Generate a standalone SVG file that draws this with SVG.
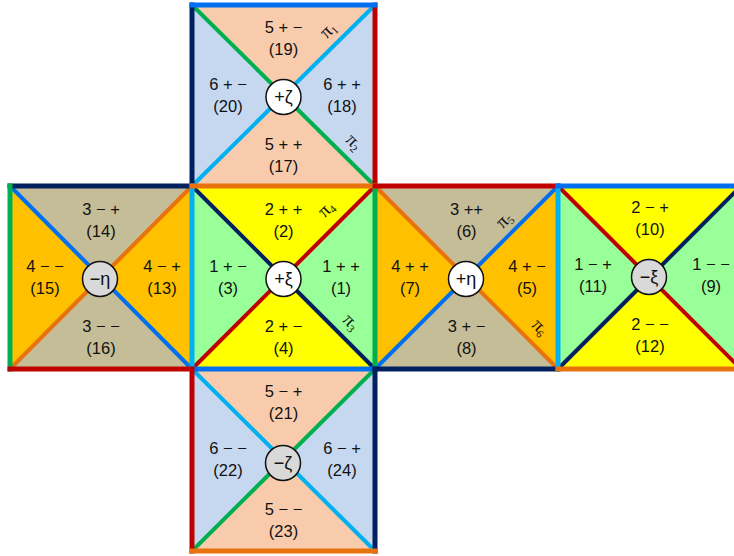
<svg xmlns="http://www.w3.org/2000/svg" width="734" height="556" viewBox="0 0 734 556">
<style>
.peach{fill:#F8CBAD}
.lblue{fill:#C5D8F0}
.tan{fill:#C4BD97}
.orng{fill:#FFC000}
.yel{fill:#FFFF00}
.grn{fill:#99FF99}
.e{stroke-width:5;fill:none;stroke-linecap:square}
.d{stroke-width:4;fill:none}
.cB{stroke:#0070F0}
.cN{stroke:#002060}
.cR{stroke:#C00000}
.cG{stroke:#00B050}
.cL{stroke:#00B0F0}
.cO{stroke:#E8720C}
text{font-family:"Liberation Sans",Arial,sans-serif;font-size:16.5px;fill:#111;text-anchor:middle}
.pi{font-family:"Liberation Serif","Times New Roman",serif;font-size:19px}
.pi tspan{font-size:11px}
.cp{fill:#fff;stroke:#111;stroke-width:1.5}
.cm{fill:#D9D9D9;stroke:#111;stroke-width:1.5}
.sym{font-size:18px}
</style>

<g id="face-top-zeta-plus">
<polygon class="peach" points="192,5 375,5 283.5,95.5"/>
<polygon class="lblue" points="375,5 375,186 283.5,95.5"/>
<polygon class="peach" points="375,186 192,186 283.5,95.5"/>
<polygon class="lblue" points="192,186 192,5 283.5,95.5"/>
<line class="d cG" x1="192" y1="5" x2="375" y2="186"/>
<line class="d cL" x1="192" y1="186" x2="375" y2="5"/>
<circle class="cp" cx="283.5" cy="97" r="17.5"/>
<text class="sym" x="283.5" y="103">+ζ</text>
<text x="283.5" y="33">5 + −</text><text x="283.5" y="55">(19)</text>
<text x="228" y="90">6 + −</text><text x="228" y="112">(20)</text>
<text x="342" y="90">6 + +</text><text x="342" y="112">(18)</text>
<text x="283.5" y="150">5 + +</text><text x="283.5" y="172">(17)</text>
<text class="pi" transform="translate(332,34) rotate(-45)">π<tspan dy="3">1</tspan></text>
<text class="pi" transform="translate(350,146) rotate(45)">π<tspan dy="3">2</tspan></text>
</g>

<g id="face-center-xi-plus">
<polygon class="yel" points="192,186 375,186 283.5,277.5"/>
<polygon class="grn" points="375,186 375,369 283.5,277.5"/>
<polygon class="yel" points="375,369 192,369 283.5,277.5"/>
<polygon class="grn" points="192,369 192,186 283.5,277.5"/>
<line class="d cN" x1="192" y1="186" x2="375" y2="369"/>
<line class="d cR" x1="192" y1="369" x2="375" y2="186"/>
<circle class="cp" cx="283.5" cy="279" r="17.5"/>
<text class="sym" x="283.5" y="285">+ξ</text>
<text x="283.5" y="215">2 + +</text><text x="283.5" y="237">(2)</text>
<text x="228" y="272">1 + −</text><text x="228" y="294">(3)</text>
<text x="341" y="272">1 + +</text><text x="341" y="294">(1)</text>
<text x="283.5" y="332">2 + −</text><text x="283.5" y="354">(4)</text>
<text class="pi" transform="translate(330,213) rotate(-45)">π<tspan dy="3">4</tspan></text>
<text class="pi" transform="translate(347,326) rotate(45)">π<tspan dy="3">3</tspan></text>
</g>

<g id="face-left-eta-minus">
<polygon class="tan" points="10,186 192,186 101,277.5"/>
<polygon class="orng" points="192,186 192,369 101,277.5"/>
<polygon class="tan" points="192,369 10,369 101,277.5"/>
<polygon class="orng" points="10,369 10,186 101,277.5"/>
<line class="d cB" x1="10" y1="186" x2="192" y2="369"/>
<line class="d cO" x1="10" y1="369" x2="192" y2="186"/>
<circle class="cm" cx="100" cy="279" r="17.5"/>
<text class="sym" x="100" y="285">−η</text>
<text x="101" y="215">3 − +</text><text x="101" y="237">(14)</text>
<text x="45" y="272">4 − −</text><text x="45" y="294">(15)</text>
<text x="162" y="272">4 − +</text><text x="162" y="294">(13)</text>
<text x="101" y="332">3 − −</text><text x="101" y="354">(16)</text>
</g>

<g id="face-right-eta-plus">
<polygon class="tan" points="375,186 558,186 466.5,277.5"/>
<polygon class="orng" points="558,186 558,369 466.5,277.5"/>
<polygon class="tan" points="558,369 375,369 466.5,277.5"/>
<polygon class="orng" points="375,369 375,186 466.5,277.5"/>
<line class="d cO" x1="375" y1="186" x2="558" y2="369"/>
<line class="d cB" x1="375" y1="369" x2="558" y2="186"/>
<circle class="cp" cx="466" cy="279" r="17.5"/>
<text class="sym" x="466" y="285">+η</text>
<text x="466.5" y="215">3 ++</text><text x="466.5" y="237">(6)</text>
<text x="410" y="272">4 + +</text><text x="410" y="294">(7)</text>
<text x="527" y="272">4 + −</text><text x="527" y="294">(5)</text>
<text x="466.5" y="332">3 + −</text><text x="466.5" y="354">(8)</text>
<text class="pi" transform="translate(508,224) rotate(-45)">π<tspan dy="3">5</tspan></text>
<text class="pi" transform="translate(536,331) rotate(45)">π<tspan dy="3">6</tspan></text>
</g>

<g id="face-far-right-xi-minus">
<polygon class="yel" points="558,186 741,186 649.5,277.5"/>
<polygon class="grn" points="741,186 741,369 649.5,277.5"/>
<polygon class="yel" points="741,369 558,369 649.5,277.5"/>
<polygon class="grn" points="558,369 558,186 649.5,277.5"/>
<line class="d cR" x1="558" y1="186" x2="741" y2="369"/>
<line class="d cN" x1="558" y1="369" x2="741" y2="186"/>
<circle class="cm" cx="649" cy="277" r="17.5"/>
<text class="sym" x="649" y="283">−ξ</text>
<text x="650" y="213">2 − +</text><text x="650" y="235">(10)</text>
<text x="593" y="270">1 − +</text><text x="593" y="292">(11)</text>
<text x="711" y="270">1 − −</text><text x="711" y="292">(9)</text>
<text x="650" y="330">2 − −</text><text x="650" y="352">(12)</text>
</g>

<g id="face-bottom-zeta-minus">
<polygon class="peach" points="192,369 375,369 283.5,460"/>
<polygon class="lblue" points="375,369 375,551 283.5,460"/>
<polygon class="peach" points="375,551 192,551 283.5,460"/>
<polygon class="lblue" points="192,551 192,369 283.5,460"/>
<line class="d cL" x1="192" y1="369" x2="375" y2="551"/>
<line class="d cG" x1="192" y1="551" x2="375" y2="369"/>
<circle class="cm" cx="283" cy="463" r="17.5"/>
<text class="sym" x="283" y="469">−ζ</text>
<text x="283.5" y="397">5 − +</text><text x="283.5" y="419">(21)</text>
<text x="228" y="454">6 − −</text><text x="228" y="476">(22)</text>
<text x="342" y="454">6 − +</text><text x="342" y="476">(24)</text>
<text x="283.5" y="515">5 − −</text><text x="283.5" y="537">(23)</text>
</g>

<g id="edges">
<line class="e cN" x1="192" y1="5" x2="192" y2="186"/>
<line class="e cR" x1="375" y1="5" x2="375" y2="186"/>
<line class="e cB" x1="192" y1="5" x2="375" y2="5"/>
<line class="e cN" x1="10" y1="186" x2="192" y2="186"/>
<line class="e cG" x1="10" y1="186" x2="10" y2="369"/>
<line class="e cR" x1="10" y1="369" x2="192" y2="369"/>
<line class="e cL" x1="192" y1="186" x2="192" y2="369"/>
<line class="e cG" x1="375" y1="186" x2="375" y2="369"/>
<line class="e cO" x1="192" y1="186" x2="375" y2="186"/>
<line class="e cB" x1="192" y1="369" x2="375" y2="369"/>
<line class="e cR" x1="375" y1="186" x2="558" y2="186"/>
<line class="e cN" x1="375" y1="369" x2="558" y2="369"/>
<line class="e cL" x1="558" y1="186" x2="558" y2="369"/>
<line class="e cB" x1="558" y1="186" x2="741" y2="186"/>
<line class="e cO" x1="558" y1="369" x2="741" y2="369"/>
<line class="e cR" x1="192" y1="369" x2="192" y2="551"/>
<line class="e cN" x1="375" y1="369" x2="375" y2="551"/>
<line class="e cO" x1="192" y1="551" x2="375" y2="551"/>
</g>
</svg>
